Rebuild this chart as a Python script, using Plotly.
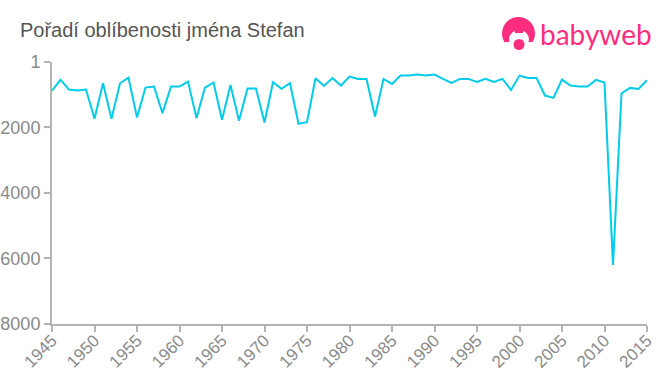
import plotly.graph_objects as go

years = list(range(1945, 2016))
ranks = [873, 548, 842, 873, 842, 1735, 650, 1735, 650, 477,
         1695, 781, 751, 1563, 751, 751, 600, 1715, 781, 630,
         1766, 700, 1797, 812, 812, 1847, 620, 822, 650, 1888,
         1837, 497, 731, 490, 720, 447, 518, 518, 1665, 518,
         670, 416, 416, 386, 416, 386, 518, 640, 518, 518,
         609, 518, 609, 518, 853, 416, 487, 487, 1025, 1096,
         538, 720, 751, 751, 548, 630, 6200, 964, 792, 822, 558]
x_ticks = list(range(1945, 2016, 5))
y_ticks = [1, 2000, 4000, 6000, 8000]
title_text = "Pořadí oblíbenosti jména Stefan"
brand = "babyweb"

AXIS = "#b4b4b4"
TICKTXT = "#8a8a8a"
PINK = "#ff2d7e"
L, R, T, B = 52, 13, 62, 51

fig = go.Figure(go.Scatter(x=years, y=ranks, mode="lines",
                           line=dict(color="#00cbe9", width=2), hoverinfo="skip"))

axis_common = dict(showgrid=False, zeroline=False, showline=True, linecolor=AXIS, linewidth=2,
                   automargin=False, ticks="outside", tickcolor=AXIS, tickwidth=2, ticklen=6)
fig.update_xaxes(range=[1945, 2015], tickmode="array", tickvals=x_ticks,
                 ticktext=[str(v) for v in x_ticks], tickangle=-45,
                 ticklabelstandoff=-8,
                 tickfont=dict(family="Liberation Sans, Arial", size=17, color=TICKTXT),
                 **axis_common)
fig.update_yaxes(range=[8000, 1], tickmode="array", tickvals=y_ticks,
                 ticktext=[str(v) for v in y_ticks],
                 tickfont=dict(family="Liberation Sans, Arial", size=18, color=TICKTXT),
                 **axis_common)

def px(x): return (x - L) / (660 - L - R)
def py(y): return (375 - B - y) / (375 - T - B)

logo = [
    dict(type="circle", x0=px(502), x1=px(535), y0=py(50), y1=py(17), fillcolor=PINK),
    dict(type="rect", x0=px(505), x1=px(533), y0=py(52), y1=py(42), fillcolor="white"),
    dict(type="circle", x0=px(509), x1=px(529), y0=py(49), y1=py(30), fillcolor="white"),
    dict(type="circle", x0=px(513.5), x1=px(524.5), y0=py(50), y1=py(39), fillcolor=PINK),
    dict(type="rect", x0=px(515), x1=px(523), y0=py(33), y1=py(28), fillcolor=PINK),
]
for s in logo:
    s.update(xref="paper", yref="paper", line=dict(width=0), layer="above")

fig.update_layout(
    width=660, height=375, autosize=False,
    margin=dict(l=L, r=R, t=T, b=B, autoexpand=False),
    paper_bgcolor="white", plot_bgcolor="white", showlegend=False,
    shapes=logo,
    annotations=[
        dict(text=title_text, xref="paper", yref="paper", x=px(20), y=py(30),
             xanchor="left", yanchor="middle", showarrow=False, xshift=-2,
             font=dict(family="Liberation Sans, Arial", size=20, color="#555555")),
        dict(text=brand, xref="paper", yref="paper", x=px(538), y=py(34),
             xanchor="left", yanchor="middle", showarrow=False,
             font=dict(family="Lato, Noto Sans", size=28, color=PINK)),
    ],
)
fig.write_html("out.html", config=dict(displayModeBar=False),
               post_script="document.body.style.margin='0';document.body.style.overflow='hidden';")
